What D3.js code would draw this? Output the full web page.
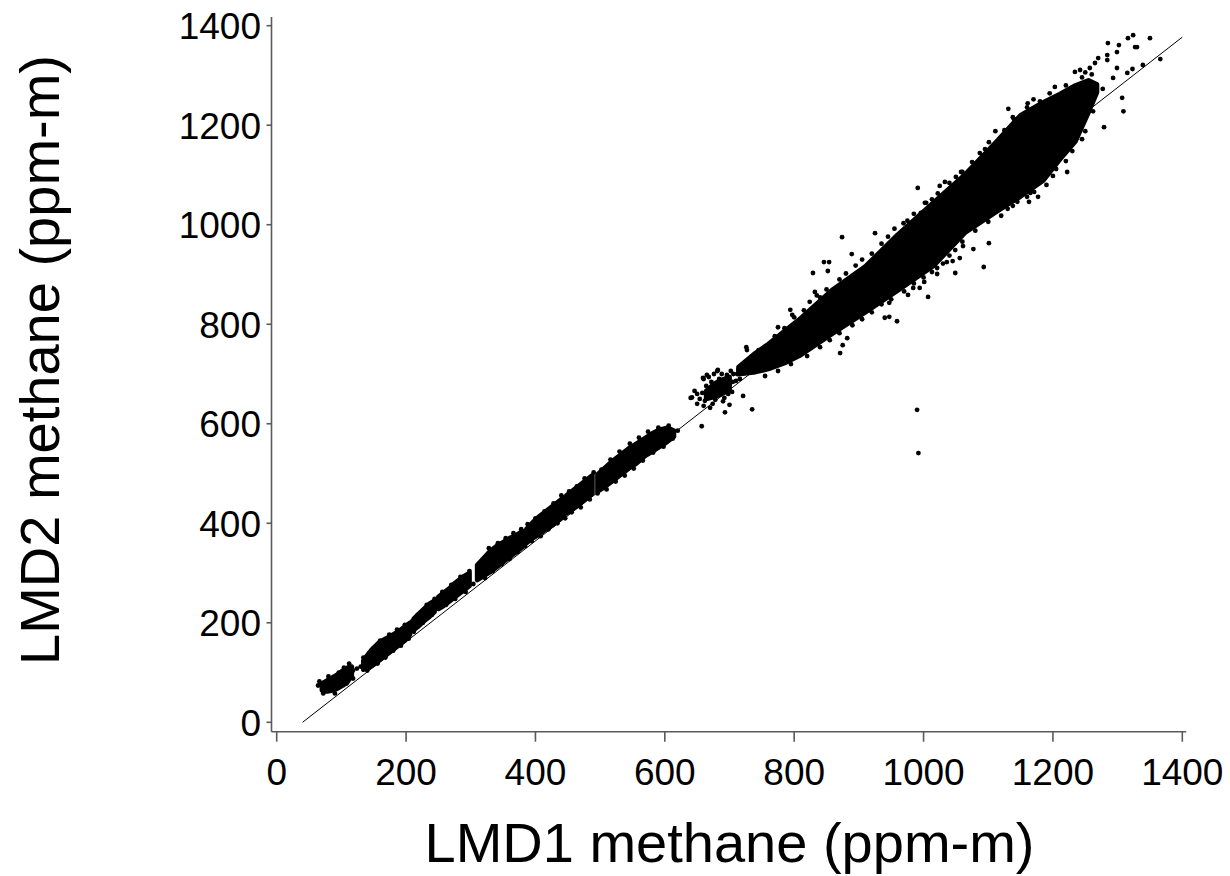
<!DOCTYPE html>
<html><head><meta charset="utf-8">
<script src="https://cdn.jsdelivr.net/npm/d3@7"></script>
<style>body{margin:0;background:#fff}</style>
</head><body>
<svg id="c" width="1230" height="876"></svg>
<script>
// ---- tick labels ----
const xTicks = [0, 200, 400, 600, 800, 1000, 1200, 1400];
const yTicks = [0, 200, 400, 600, 800, 1000, 1200, 1400];
const xTitle = "LMD1 methane (ppm-m)";
const yTitle = "LMD2 methane (ppm-m)";

// ---- fit line (endpoints) ----
const fitX = [40, 1400];
const fitY = [0, 1377];

// ---- saturated (overplotted) cores: [x, lowest y, highest y] of dot centres ----
const coreUpper = [
  [714,700,714],[740,704,742],[760,710,760],[785,722,786],[810,738,812],[860,782,870],[910,824,916],
  [960,868,980],[1015,917,1044],[1065,985,1102],[1115,1028,1170],[1150,1057,1220],[1185,1089,1246],
  [1210,1130,1262],[1235,1168,1280],[1255,1226,1290],[1268,1266,1282]
];
const coreMid = [[664,650,666],[676,654,680],[688,660,688],[700,668,694]];
const clumpA = [[70,64,78],[78,62,84],[86,64,90],[94,68,96],[102,74,104],[110,82,110],[116,94,112]];
const clumpB = [[134,106,124],[142,110,138],[150,116,150],[158,124,160],[166,132,166],[174,140,172],
  [182,148,178],[190,156,184],[198,164,192],[206,176,200]];
const clumpC = [[212,186,208],[220,194,218],[228,204,228],[236,212,238],[244,222,244]];
const clumpD = [[250,228,252],[258,234,260],[266,242,268],[274,250,278],[282,258,286],[290,266,294],[298,274,300]];
const clumpE = [[310,286,316],[320,294,330],[330,302,344],[340,312,354],[350,322,362],[360,332,370],[370,342,376],[380,352,384]];
const clumpF = [[386,360,388],[396,370,402],[406,378,414],[416,388,424],[426,396,434],[436,406,444],[444,416,452]];
const clumpG = [[448,420,456],[458,430,466],[468,438,476],[478,450,486],[488,460,496]];
const clumpH = [[496,464,498],[508,474,512],[520,486,526],[532,498,538],[544,510,550],[556,520,560],
  [568,534,570],[580,544,580],[592,554,588],[604,564,592],[614,574,586]];

// ---- individual visible points ----
const lowBandDots = [
  [64,74],[72,58],[66,82],[80,92],[90,58],[96,100],[104,110],[112,118],[118,104],[124,108],[118,88],[108,78],
  [130,112],[134,130],[140,104],[146,144],[156,118],[160,164],[168,130],[174,176],[180,144],[186,186],[192,154],[198,196],[204,168],[210,204],
  [212,182],[218,216],[226,200],[232,236],[240,216],[244,248],
  [250,236],[256,262],[262,236],[270,276],[276,248],[284,292],[292,262],[298,304],[304,278],
  [312,298],[316,322],[322,290],[328,350],[334,304],[342,360],[348,318],[354,370],[360,328],[366,380],[372,342],[378,388],[384,354],
  [388,398],[394,364],[400,410],[408,374],[414,424],[420,388],[428,440],[434,400],[440,456],[446,410],
  [452,464],[456,422],[464,474],[470,432],[476,490],[484,448],[490,502],
  [496,460],[502,508],[510,468],[516,528],[524,484],[530,544],[538,496],[546,560],[552,510],[560,572],
  [566,526],[574,584],[582,542],[590,592],[598,554],[606,596],[612,570],[620,586]
];
const midDots = [
  [640,652],[646,666],[650,640],[657,595],[660,690],[665,698],[670,632],[676,700],[681,706],[686,672],
  [693,623],[698,660],[705,684],[712,700],[716,690],[721,656],[735,629],[726,754],[727,748],[682,708],
  [659,692],[642,653],[700,638],[690,645],[654,650],[658,662],[662,646],[664,676],[668,658],[672,684],
  [678,648],[684,690],[692,652],[696,698],[700,680],[704,664],[706,700],[710,686],[714,708],[660,636],
  [650,660],[668,694],[688,700],[702,706],[674,640],[694,676]
];
const upperDots = [
  [874,975],[925,983],[889,941],[846,925],[854,925],[852,907],[829,903],[832,865],[835,858],[824,845],
  [794,829],[797,819],[775,794],[991,1074],[1025,1078],[1033,1086],[1060,1106],[1087,1144],[1111,1188],
  [1004,1044],[1101,1166],[1058,1106],[1022,1063],[1013,1051],[1002,1044],[969,1003],[996,1024],
  [1131,1233],[1138,1216],[1161,1244],[1180,1248],[1192,1248],[1203,1277],[1234,1307],[1242,1311],
  [1257,1315],[1265,1325],[1270,1335],[1284,1341],[1284,1331],[1299,1347],[1302,1361],[1285,1365],
  [1316,1375],[1324,1381],[1350,1375],[1330,1357],[1327,1357],[1339,1321],[1366,1333],[1315,1305],
  [1323,1313],[1299,1315],[1293,1295],[1277,1273],
  [745,748],[770,776],[785,792],[800,814],[815,828],[840,854],[850,870],[870,890],[880,902],[895,918],
  [905,930],[920,942],[935,962],[945,976],[955,992],[975,1008],[985,1022],[1040,1084],[1050,1096],
  [1075,1126],[1095,1152],[1125,1190],[1140,1212],[1160,1236],[1170,1252],[1195,1264],[1220,1280],
  [1245,1296],[1260,1302],[1250,1306]
];
const lowerDots = [
  [871,742],[875,758],[882,772],[940,813],[947,815],[959,806],[947,843],[976,859],[984,873],[994,873],
  [1007,855],[1001,885],[1013,905],[1021,901],[1021,913],[1049,903],[1049,949],[1036,925],[1045,927],
  [1093,915],[1056,933],[1077,951],[1061,957],[1101,963],[1177,1056],[1163,1046],[1171,1066],
  [1138,1038],[1171,1078],[1160,1056],[1307,1255],[1309,1228],[1279,1196],[1245,1172],[1222,1106],
  [1205,1112],[990,628],[992,541],
  [755,696],[775,706],[795,720],[820,736],[840,754],[855,768],[870,782],[890,798],[905,810],[920,824],
  [935,840],[950,850],[970,866],[985,882],[1000,894],[1030,922],[1040,938],[1060,966],[1080,988],
  [1100,1006],[1120,1018],[1130,1032],[1145,1046],[1165,1064],[1190,1080],[1200,1098],[1220,1128],
  [1230,1148],[1250,1188],[1262,1228]
];

// ---- drawing ----
const svg = d3.select("#c");
const x = d3.scaleLinear().domain([0, 1400]).range([276.7, 1182.3]);
const y = d3.scaleLinear().domain([0, 1400]).range([722.3, 25.7]);
const FONT = "'Liberation Sans', Arial, sans-serif";
const axisColor = "#5a5a5a";
const axisY = 731.7, axisX = 271.5;

svg.append("line").attr("x1", axisX).attr("x2", axisX).attr("y1", 17).attr("y2", axisY)
  .attr("stroke", axisColor).attr("stroke-width", 1.6);
svg.append("line").attr("x1", axisX).attr("x2", x(1406)).attr("y1", axisY).attr("y2", axisY)
  .attr("stroke", axisColor).attr("stroke-width", 1.6);

const gx = svg.append("g");
gx.selectAll("line").data(xTicks).join("line")
  .attr("x1", d => x(d)).attr("x2", d => x(d)).attr("y1", axisY).attr("y2", axisY + 10)
  .attr("stroke", axisColor).attr("stroke-width", 1.6);
gx.selectAll("text").data(xTicks).join("text")
  .attr("x", d => x(d)).attr("y", 785).attr("text-anchor", "middle")
  .attr("font-family", FONT).attr("font-size", 37).attr("fill", "#000").text(d => d);

const gy = svg.append("g");
gy.selectAll("line").data(yTicks).join("line")
  .attr("x1", axisX - 5).attr("x2", axisX).attr("y1", d => y(d)).attr("y2", d => y(d))
  .attr("stroke", axisColor).attr("stroke-width", 1.6);
gy.selectAll("text").data(yTicks).join("text")
  .attr("x", 261).attr("y", d => y(d)).attr("dy", "0.36em").attr("text-anchor", "end")
  .attr("font-family", FONT).attr("font-size", 37).attr("fill", "#000").text(d => d);

svg.append("text").attr("x", (x(0) + x(1400)) / 2).attr("y", 862).attr("text-anchor", "middle")
  .attr("font-family", FONT).attr("font-size", 56).attr("fill", "#000").text(xTitle);
svg.append("text").attr("transform", "translate(59,360) rotate(-90)").attr("text-anchor", "middle")
  .attr("font-family", FONT).attr("font-size", 56).attr("fill", "#000").text(yTitle);

svg.append("line").attr("x1", x(fitX[0])).attr("y1", y(fitY[0])).attr("x2", x(fitX[1])).attr("y2", y(fitY[1]))
  .attr("stroke", "#000").attr("stroke-width", 1);

const R = 2.4;
const area = d3.area().x(d => x(d[0])).y0(d => y(d[1])).y1(d => y(d[2]));
[coreUpper, coreMid, clumpA, clumpB, clumpC, clumpD, clumpE, clumpF, clumpG, clumpH].forEach(c => {
  svg.append("path").attr("d", area(c)).attr("fill", "#000").attr("stroke", "#000")
    .attr("stroke-width", 2 * R).attr("stroke-linejoin", "round");
});

const allDots = lowBandDots.concat(midDots, upperDots, lowerDots);
svg.append("g").selectAll("circle").data(allDots).join("circle")
  .attr("cx", d => x(d[0])).attr("cy", d => y(d[1])).attr("r", R).attr("fill", "#000");
</script>
</body></html>
